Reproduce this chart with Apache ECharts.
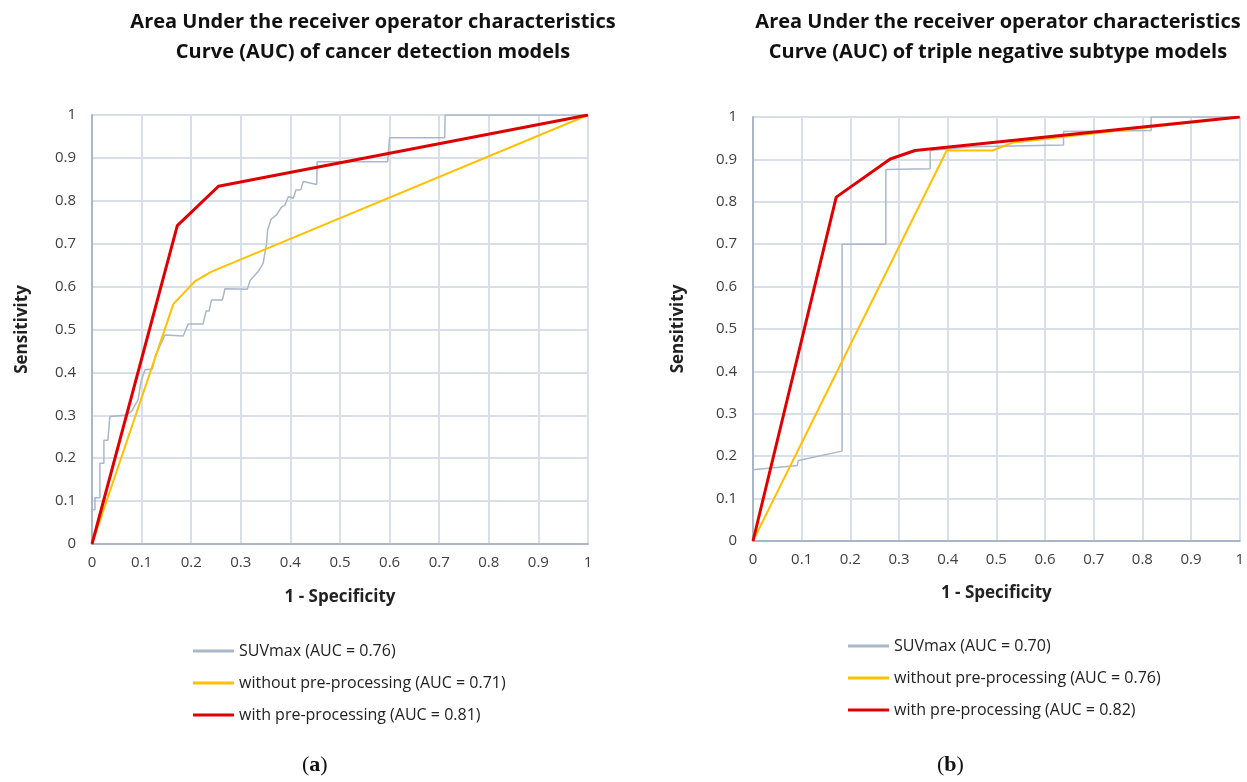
<!DOCTYPE html>
<html><head><meta charset="utf-8">
<script src="https://cdn.jsdelivr.net/npm/echarts@6/dist/echarts.min.js"></script>
<style>html,body{margin:0;padding:0;background:#fff}#c{width:1247px;height:782px}</style>
</head><body><div id="c"></div>
<script>
// ---- Data ----
const xTicks = [0,0.1,0.2,0.3,0.4,0.5,0.6,0.7,0.8,0.9,1];
const titleA = ["Area Under the receiver operator characteristics", "Curve (AUC) of cancer detection models"];
const titleB = ["Area Under the receiver operator characteristics", "Curve (AUC) of triple negative subtype models"];
const namesA = ["SUVmax (AUC = 0.76)", "without pre-processing (AUC = 0.71)", "with pre-processing (AUC = 0.81)"];
const namesB = ["SUVmax (AUC = 0.70)", "without pre-processing (AUC = 0.76)", "with pre-processing (AUC = 0.82)"];

// (a) cancer detection: [1 - specificity, sensitivity]
const suvA = [[0,0.08],[0.006,0.08],[0.006,0.108],[0.016,0.108],[0.016,0.188],[0.024,0.188],[0.024,0.242],[0.032,0.242],[0.036,0.297],[0.04,0.301],[0.066,0.3],[0.079,0.308],[0.093,0.336],[0.099,0.38],[0.107,0.406],[0.122,0.408],[0.127,0.437],[0.147,0.487],[0.184,0.485],[0.194,0.513],[0.224,0.513],[0.23,0.543],[0.236,0.543],[0.241,0.569],[0.263,0.569],[0.268,0.595],[0.313,0.594],[0.319,0.615],[0.335,0.635],[0.345,0.654],[0.352,0.701],[0.354,0.732],[0.361,0.757],[0.372,0.767],[0.382,0.785],[0.389,0.79],[0.396,0.81],[0.406,0.806],[0.411,0.825],[0.421,0.826],[0.426,0.845],[0.453,0.838],[0.454,0.891],[0.596,0.891],[0.6,0.947],[0.711,0.947],[0.712,1],[1,1]];
const withoutA = [[0,0],[0.164,0.559],[0.208,0.613],[0.241,0.635],[1,1]];
const withA = [[0,0],[0.172,0.742],[0.255,0.834],[1,1]];

// (b) triple negative subtype
const suvB = [[0,0.168],[0.091,0.178],[0.093,0.19],[0.183,0.212],[0.183,0.70],[0.273,0.70],[0.273,0.876],[0.364,0.878],[0.364,0.921],[0.45,0.93],[0.638,0.934],[0.638,0.966],[0.818,0.968],[0.818,1],[1,1]];
const withoutB = [[0,0],[0.398,0.921],[0.492,0.921],[0.535,0.94],[1,1]];
const withB = [[0,0],[0.171,0.811],[0.282,0.901],[0.333,0.921],[1,1]];

// ---- Styles ----
const FONT = '"Open Sans", "Noto Sans", sans-serif';
const cGray = '#a9b7c8', cYellow = '#ffc000', cRed = '#dd0000';
const gridColor = '#d9dfe8', axisColor = '#a8b6c8', labelColor = '#404040';

function fmt(v){ return String(Math.round(v*10)/10); }

function xAxis(gi, gap){
  return {type:'value', gridIndex:gi, min:0, max:1, interval:0.1,
    name:'1 - Specificity', nameLocation:'middle', nameGap:gap,
    nameTextStyle:{fontFamily:FONT, fontWeight:'bold', fontSize:17, color:'#222'},
    axisLine:{show:true, lineStyle:{color:axisColor, width:2}},
    axisTick:{show:false},
    axisLabel:{fontFamily:FONT, fontSize:15, color:labelColor, margin:11, formatter:fmt},
    splitLine:{show:true, lineStyle:{color:gridColor, width:2}}};
}
function yAxis(gi, gap){
  return {type:'value', gridIndex:gi, min:0, max:1, interval:0.1,
    name:'Sensitivity', nameLocation:'middle', nameGap:gap,
    nameTextStyle:{fontFamily:FONT, fontWeight:'bold', fontSize:17, color:'#222'},
    axisLine:{show:true, lineStyle:{color:axisColor, width:2}},
    axisTick:{show:false},
    axisLabel:{fontFamily:FONT, fontSize:15, color:labelColor, margin:16, formatter:fmt},
    splitLine:{show:true, lineStyle:{color:gridColor, width:2}}};
}
function line(name, data, gi, color, width){
  return {type:'line', name, data, xAxisIndex:gi, yAxisIndex:gi, symbol:'none',
    lineStyle:{color, width}, itemStyle:{color}, animation:false};
}
function legend(names, left, top){
  return {orient:'vertical', left, top, data:names, itemWidth:41, itemHeight:3, itemGap:16,
    icon:'rect', selectedMode:false,
    textStyle:{fontFamily:FONT, fontSize:16, color:'#222'}};
}

const chart = echarts.init(document.getElementById('c'), null, {renderer:'canvas'});
chart.setOption({
  animation:false,
  title:[
    {text: titleA.join('\n'), left:368, top:2, textAlign:'center',
     textStyle:{fontFamily:FONT, fontWeight:'bold', fontSize:20, lineHeight:30, color:'#111'}},
    {text: titleB.join('\n'), left:993, top:2, textAlign:'center',
     textStyle:{fontFamily:FONT, fontWeight:'bold', fontSize:20, lineHeight:30, color:'#111'}}
  ],
  grid:[
    {left:92, right:659, top:115, bottom:238},
    {left:753, right:7, top:117, bottom:241}
  ],
  xAxis:[xAxis(0,45), xAxis(1,44)],
  yAxis:[yAxis(0,61), yAxis(1,66)],
  legend:[legend(namesA, 188, 638), legend(namesB, 843, 633)],
  series:[
    line(namesA[0], suvA, 0, cGray, 1.5),
    line(namesA[1], withoutA, 0, cYellow, 2),
    line(namesA[2], withA, 0, cRed, 3),
    line(namesB[0], suvB, 1, cGray, 1.5),
    line(namesB[1], withoutB, 1, cYellow, 2),
    line(namesB[2], withB, 1, cRed, 3)
  ],
  graphic:[
    {type:'text', left:302, top:754, style:{text:'({a|a})', fontFamily:'"Liberation Serif", "DejaVu Serif", serif', fontSize:22, fill:'#111',
      rich:{a:{fontWeight:'bold', fontFamily:'"Liberation Serif", serif', fontSize:22}}}},
    {type:'text', left:937, top:754, style:{text:'({a|b})', fontFamily:'"Liberation Serif", "DejaVu Serif", serif', fontSize:22, fill:'#111',
      rich:{a:{fontWeight:'bold', fontFamily:'"Liberation Serif", serif', fontSize:22}}}}
  ]
});
</script></body></html>
